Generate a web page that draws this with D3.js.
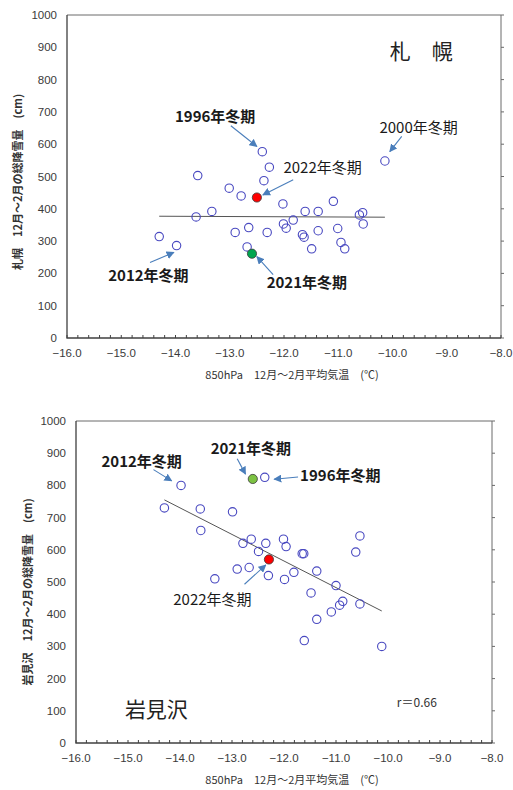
<!DOCTYPE html>
<html lang="ja">
<head>
<meta charset="utf-8">
<title>850hPa 気温と総降雪量</title>
<script src="https://d3js.org/d3.v7.min.js"></script>
<style>
  body { margin: 0; background: #fff; }
  svg text { font-family: 'Noto Sans CJK JP', sans-serif; }
  .tick-label { font-family: 'Liberation Sans', Arial, sans-serif; font-size: 11.5px; fill: #3a3a3a; }
</style>
</head>
<body>
<div id="chart"></div>
<script>

/* Data */
/* =========================== */

// 札幌: 850hPa 12-2月平均気温 (℃) と 12-2月総降雪量 (cm)
var sapporoTemp = [-13.59, -13.01, -12.79, -12.40, -12.37, -13.33, -13.62, -14.30, -13.98, -12.90,
                   -12.65, -12.68, -12.31, -12.27, -12.02, -11.09, -10.14, -11.61, -11.37, -10.61,
                   -10.55, -10.54, -11.83, -12.01, -11.96, -11.66, -11.63, -11.37, -11.01, -10.95,
                   -10.88, -11.49];
var sapporoSnow = [503, 464, 440, 577, 487, 392, 375, 314, 286, 327,
                   342, 282, 327, 529, 415, 423, 548, 392, 392, 381,
                   388, 353, 365, 353, 340, 320, 312, 332, 339, 296,
                   276, 276];
var sapporo2022 = [-12.50, 435];   // red
var sapporo2021 = [-12.59, 261];   // green
var sapporoTrend = [[-14.30, 377], [-10.14, 374]];

// 岩見沢
var iwamiTemp = [-13.98, -14.30, -13.61, -12.99, -13.60, -12.37, -12.79, -12.63, -12.49, -12.35,
                 -12.90, -12.67, -13.33, -12.30, -12.01, -11.96, -11.65, -11.62, -10.54, -10.62,
                 -11.99, -11.81, -11.37, -11.00, -11.48, -10.87, -10.93, -10.54, -11.09, -11.37,
                 -11.61, -10.12];
var iwamiSnow = [800, 730, 727, 718, 660, 825, 620, 633, 595, 620,
                 540, 545, 510, 520, 633, 610, 588, 588, 643, 593,
                 508, 530, 534, 489, 466, 440, 428, 432, 407, 384,
                 318, 300];
var iwami2022 = [-12.29, 570];
var iwami2021 = [-12.60, 820];
var iwamiTrend = [[-14.30, 755], [-10.12, 410]];
var iwamiR = 'r＝0.66';

// axes
var xTicks = d3.range(-16, -7.99, 1);
var xMinorTicks = d3.range(0, 41).map(function(i) { return -16 + i * 0.2; });
var yTicks = d3.range(0, 1001, 100);
var xLabel = '850hPa　12月～2月平均気温　(℃)';


/* Setup */
/* ===== */

var width = 513,
    height = 790;

var svg = d3.select('#chart').append('svg')
    .attr('width', width)
    .attr('height', height);

var defs = svg.append('defs');
defs.append('marker')
    .attr('id', 'arrow')
    .attr('viewBox', '0 0 10 10')
    .attr('refX', 9)
    .attr('refY', 5)
    .attr('markerUnits', 'userSpaceOnUse')
    .attr('markerWidth', 8)
    .attr('markerHeight', 8)
    .attr('orient', 'auto')
  .append('path')
    .attr('d', 'M0,0 L10,5 L0,10 z')
    .attr('fill', '#4a7ebb');


/* Chart function */
/* ============== */

function drawChart(opt) {

  var x = d3.scaleLinear().domain([-16, -8]).range([opt.left, opt.right]);
  var y = d3.scaleLinear().domain([0, 1000]).range([opt.bottom, opt.top]);

  var g = svg.append('g');

  // frame: top and right
  g.append('path')
      .attr('d', 'M' + x(-16) + ',' + y(1000) + 'H' + x(-8) + 'V' + y(0))
      .attr('fill', 'none')
      .attr('stroke', '#6a6a6a')
      .attr('stroke-width', 1);

  // right ticks (outside)
  g.selectAll('.rtick').data(yTicks).enter().append('line')
      .attr('x1', x(-8)).attr('x2', x(-8) + 3)
      .attr('y1', function(d) { return y(d); })
      .attr('y2', function(d) { return y(d); })
      .attr('stroke', '#6a6a6a');

  // bottom minor ticks (inside)
  g.selectAll('.btick').data(xMinorTicks).enter().append('line')
      .attr('x1', function(d) { return x(d); })
      .attr('x2', function(d) { return x(d); })
      .attr('y1', y(0)).attr('y2', y(0) - 3)
      .attr('stroke', '#404040');

  // left and bottom axis lines
  g.append('path')
      .attr('d', 'M' + x(-16) + ',' + y(1000) + 'V' + y(0) + 'H' + x(-8))
      .attr('fill', 'none')
      .attr('stroke', '#404040')
      .attr('stroke-width', 1.3);

  // tick labels
  g.selectAll('.ylab').data(yTicks).enter().append('text')
      .attr('class', 'tick-label')
      .attr('x', x(-16) - 10)
      .attr('y', function(d) { return y(d); })
      .attr('dy', '0.35em')
      .attr('text-anchor', 'end')
      .text(function(d) { return d; });

  g.selectAll('.xlab').data(xTicks).enter().append('text')
      .attr('class', 'tick-label')
      .attr('x', function(d) { return x(d); })
      .attr('y', y(0) + 15)
      .attr('dy', '0.35em')
      .attr('text-anchor', 'middle')
      .text(d3.format('.1f'));

  // axis titles
  g.append('text')
      .attr('x', (x(-16) + x(-8)) / 2 + 8)
      .attr('y', y(0) + 41)
      .attr('text-anchor', 'middle')
      .attr('font-size', '11px')
      .attr('fill', '#333')
      .text(xLabel);

  g.append('text')
      .attr('transform', 'translate(' + opt.yLabelX + ',' + opt.yLabelY + ') rotate(-90)')
      .attr('text-anchor', 'middle')
      .attr('dy', '0.35em')
      .attr('font-size', '11px')
      .attr('font-weight', 'bold')
      .attr('fill', '#333')
      .text(opt.yLabel);

  // trend line
  g.append('line')
      .attr('x1', x(opt.trend[0][0])).attr('y1', y(opt.trend[0][1]))
      .attr('x2', x(opt.trend[1][0])).attr('y2', y(opt.trend[1][1]))
      .attr('stroke', '#555')
      .attr('stroke-width', 1);

  // open circles
  g.selectAll('.pt').data(d3.range(opt.temp.length)).enter().append('circle')
      .attr('cx', function(i) { return x(opt.temp[i]); })
      .attr('cy', function(i) { return y(opt.snow[i]); })
      .attr('r', 4.2)
      .attr('fill', 'none')
      .attr('stroke', '#4848c0')
      .attr('stroke-width', 1.1);

  // highlighted years
  [[opt.green, opt.greenColor], [opt.red, '#ff0000']].forEach(function(p) {
    g.append('circle')
        .attr('cx', x(p[0][0]))
        .attr('cy', y(p[0][1]))
        .attr('r', 4.6)
        .attr('fill', p[1])
        .attr('stroke', '#3a3a3a')
        .attr('stroke-width', 0.8);
  });

  // annotations
  opt.notes.forEach(function(n) {
    g.append('line')
        .attr('x1', x(n.from[0])).attr('y1', y(n.from[1]))
        .attr('x2', x(n.to[0])).attr('y2', y(n.to[1]))
        .attr('stroke', '#4a7ebb')
        .attr('stroke-width', 1.1)
        .attr('marker-end', 'url(#arrow)');
    g.append('text')
        .attr('x', x(n.at[0]))
        .attr('y', y(n.at[1]))
        .attr('dy', '0.35em')
        .attr('font-size', '15px')
        .attr('font-weight', n.bold ? 'bold' : 'normal')
        .attr('fill', '#1a1a1a')
        .text(n.text);
  });

  // station name
  g.append('text')
      .attr('x', x(opt.name.at[0]))
      .attr('y', y(opt.name.at[1]))
      .attr('dy', '0.35em')
      .attr('font-size', '21px')
      .attr('fill', '#222')
      .text(opt.name.text);

  if (opt.r) {
    g.append('text')
        .attr('x', x(opt.r.at[0]))
        .attr('y', y(opt.r.at[1]))
        .attr('dy', '0.35em')
        .attr('font-family', 'Liberation Sans, sans-serif')
        .attr('font-size', '12px')
        .attr('fill', '#333')
        .text(opt.r.text);
  }

} // drawChart()


/* Draw */
/* ==== */

drawChart({
  left: 67, right: 501, top: 15, bottom: 338,
  temp: sapporoTemp, snow: sapporoSnow,
  red: sapporo2022, green: sapporo2021, greenColor: '#00a650',
  trend: sapporoTrend,
  yLabel: '札幌　12月～2月の総降雪量　(cm)', yLabelX: 18, yLabelY: 182,
  name: { text: '札　幌', at: [-10.05, 886] },
  notes: [
    { text: '1996年冬期', bold: true,  at: [-14.01, 685], from: [-12.98, 657], to: [-12.50, 593] },
    { text: '2022年冬期', bold: false, at: [-12.01, 526], from: [-11.83, 490], to: [-12.39, 443] },
    { text: '2000年冬期', bold: false, at: [-10.24, 650], from: [-9.83, 624],  to: [-10.05, 577] },
    { text: '2012年冬期', bold: true,  at: [-15.24, 194], from: [-14.47, 234], to: [-14.03, 265] },
    { text: '2021年冬期', bold: true,  at: [-12.32, 170], from: [-12.20, 196], to: [-12.50, 252] }
  ]
});

drawChart({
  left: 76, right: 492, top: 421, bottom: 743,
  temp: iwamiTemp, snow: iwamiSnow,
  red: iwami2022, green: iwami2021, greenColor: '#7cc242',
  trend: iwamiTrend,
  yLabel: '岩見沢　12月～2月の総降雪量　(cm)', yLabelX: 28, yLabelY: 592,
  name: { text: '岩見沢', at: [-15.06, 103] },
  r: { text: iwamiR, at: [-9.83, 126] },
  notes: [
    { text: '2012年冬期', bold: true,  at: [-15.51, 875], from: [-14.51, 849], to: [-14.16, 814] },
    { text: '2021年冬期', bold: true,  at: [-13.41, 914], from: [-12.90, 883], to: [-12.74, 835] },
    { text: '1996年冬期', bold: true,  at: [-11.69, 829], from: [-11.73, 826], to: [-12.19, 819] },
    { text: '2022年冬期', bold: false, at: [-14.13, 446], from: [-12.76, 493], to: [-12.35, 553] }
  ]
});

</script>
</body>
</html>
